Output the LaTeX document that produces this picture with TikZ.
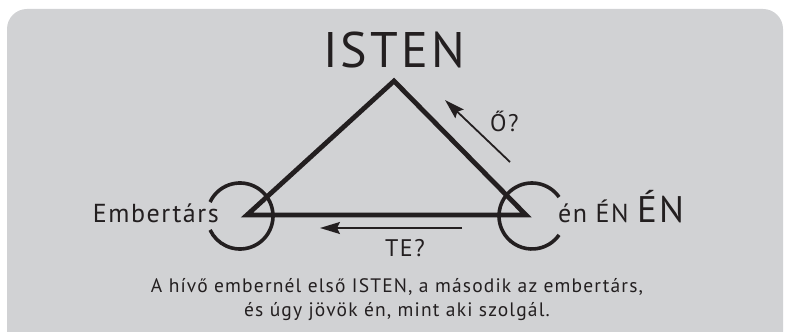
\documentclass[tikz,border=0pt]{standalone}
\usepackage{fontspec}
\setmainfont[LetterSpace=6]{PT Sans}
\usepackage{tikz}
\usetikzlibrary{shapes,arrows,arrows.meta}
\definecolor{panelgray}{RGB}{209,210,212}
\definecolor{ink}{RGB}{35,31,32}

\begin{document}
\begin{tikzpicture}[x=1pt,y=1pt,
    side/.style={draw=ink, line width=4.8pt, miter limit=20},
    ring/.style={draw=ink, line width=3.6pt},
    pointer/.style={draw=ink, line width=1.8pt, -{Stealth[length=20pt,width=12pt,inset=3pt]}},
    lbl/.style={text=ink, inner sep=0pt}]
  \useasboundingbox (0,0) rectangle (785,332);
  % Sizes
  \pgfmathsetmacro{\rad}{33}
  % panel
  \fill[panelgray, rounded corners=20pt] (7,-30) rectangle (783,323);

  % vertices
  \coordinate (isten) at (394,251);
  \coordinate (tars) at (247,117);
  \coordinate (en) at (526,117);
  \coordinate (tarsring) at (240,116);
  \coordinate (enring) at (532,116);

  % draw diagram
  \draw[side] (isten) -- (tars) -- (en) -- cycle;
  \draw[ring] (tarsring) ++(155:\rad) arc (155:-155:\rad);
  \draw[ring] (enring) ++(35:\rad) arc (35:325:\rad);

  % arrows
  \coordinate (otail) at (510,170);
  \coordinate (ohead) at (445,232);
  \coordinate (tetail) at (462,104);
  \coordinate (tehead) at (320,104);
  \draw[pointer] (otail) -- (ohead);
  \draw[pointer] (tetail) -- (tehead);

  % labels
  \node[lbl, anchor=base, font=\fontsize{50}{50}\selectfont] (istenlbl) at (394,264) {ISTEN};
  \node[lbl, anchor=base east, font=\fontsize{26}{26}\selectfont] (tarslbl) at (219,109) {Embertárs};
  \node[lbl, anchor=base west, font=\fontsize{26}{26}\selectfont] (enlbl) at (558,109)
    {én ÉN \fontsize{37}{37}\selectfont ÉN};
  \node[lbl, anchor=base west, font=\fontsize{24}{24}\selectfont] (olbl) at (490,200) {Ő?};
  \node[lbl, anchor=base, font=\fontsize{24}{24}\selectfont] (telbl) at (405,75) {TE?};
  \node[lbl, anchor=base, align=center, font=\fontsize{19.5}{24}\selectfont] (caption) at (397,15)
    {A hívő embernél első ISTEN, a második az embertárs,\\
     és úgy jövök én, mint aki szolgál.};
\end{tikzpicture}
\end{document}
